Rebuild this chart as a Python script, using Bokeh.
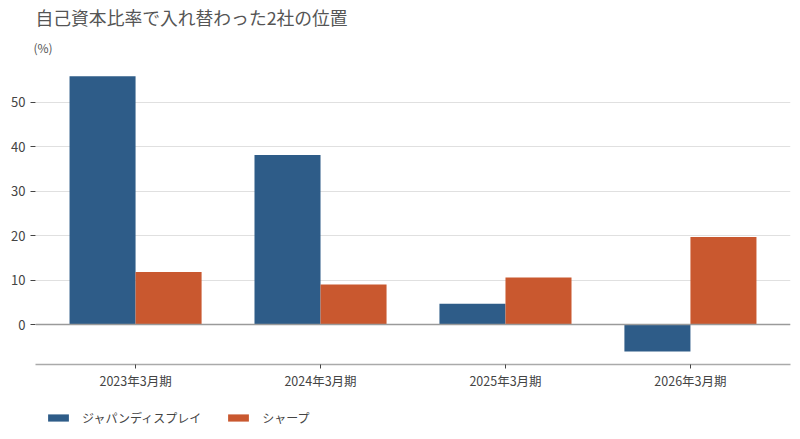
from bokeh.plotting import figure
from bokeh.layouts import column
from bokeh.models import FactorRange, Range1d, Span, Legend, LegendItem, Title, FixedTicker, ColumnDataSource
from bokeh.transform import dodge
from bokeh.embed import file_html
from bokeh.resources import INLINE

categories = ["2023年3月期", "2024年3月期", "2025年3月期", "2026年3月期"]
jdi = [55.9, 38.2, 4.7, -6.1]
sharp = [11.8, 9.0, 10.6, 19.7]
series_names = ["ジャパンディスプレイ", "シャープ"]
y_ticks = [0, 10, 20, 30, 40, 50]

FONT = "Noto Sans CJK JP"
BLUE = "#2e5c88"
ORANGE = "#c9582f"

src = ColumnDataSource(dict(cat=categories, jdi=jdi, sharp=sharp))

xr = FactorRange(*categories, range_padding=0.041, range_padding_units="absolute")
p = figure(x_range=xr, y_range=Range1d(-9, 59),
           width=792, height=392, output_backend="svg", toolbar_location=None,
           min_border_left=35, min_border_right=2, min_border_top=10, min_border_bottom=27)
p.outline_line_color = None
p.background_fill_color = "white"
p.border_fill_color = "white"

r1 = p.vbar(x=dodge("cat", -0.1785, range=p.x_range), top="jdi", width=0.357, source=src,
            fill_color=BLUE, line_color=None)
r2 = p.vbar(x=dodge("cat", 0.1785, range=p.x_range), top="sharp", width=0.357, source=src,
            fill_color=ORANGE, line_color=None)

p.add_layout(Span(location=0, dimension="width", line_color="#9a9a9a", line_width=1.5))

p.xgrid.grid_line_color = None
p.ygrid.grid_line_color = "#e0e0e0"
p.ygrid.grid_line_width = 1

p.yaxis.ticker = FixedTicker(ticks=y_ticks)
p.yaxis.axis_line_color = None
p.yaxis.major_tick_line_color = "#444444"
p.yaxis.major_tick_out = 5
p.yaxis.major_tick_in = 0
p.yaxis.minor_tick_line_color = None
p.yaxis.major_label_text_font = FONT
p.yaxis.major_label_text_font_size = "13px"
p.yaxis.major_label_text_color = "#444444"
p.yaxis.major_label_standoff = 5

p.xaxis.axis_line_color = "#aaaaaa"
p.xaxis.axis_line_width = 1.5
p.xaxis.major_tick_line_color = "#444444"
p.xaxis.major_tick_out = 4
p.xaxis.major_tick_in = 0
p.xaxis.minor_tick_line_color = None
p.xaxis.major_label_text_font = FONT
p.xaxis.major_label_text_font_size = "12.5px"
p.xaxis.major_label_text_color = "#444444"
p.xaxis.major_label_standoff = 2

p.add_layout(Title(text="(%)", text_font=FONT, text_font_size="12px", text_color="#555555",
                   text_font_style="normal", align="left", offset=-2, standoff=13), "above")
p.add_layout(Title(text="自己資本比率で入れ替わった2社の位置", text_font=FONT, text_font_size="17.8px",
                   text_color="#555555", text_font_style="normal", align="left", offset=0, standoff=2), "above")

# legend strip below the chart (proxy bars lie outside its visible range)
lf = figure(width=792, height=34, x_range=Range1d(0, 1), y_range=Range1d(0, 1),
            output_backend="svg", toolbar_location=None,
            min_border_left=35, min_border_right=2, min_border_top=0, min_border_bottom=0)
lf.axis.visible = False
lf.grid.visible = False
lf.outline_line_color = None
lf.border_fill_color = "white"
proxy = ColumnDataSource(dict(x=[-5], top=[-5], bottom=[-4]))
l1 = lf.vbar(x="x", top="top", bottom="bottom", width=0.1, source=proxy, fill_color=BLUE, line_color=None)
l2 = lf.vbar(x="x", top="top", bottom="bottom", width=0.1, source=proxy, fill_color=ORANGE, line_color=None)

legend = Legend(items=[LegendItem(label=series_names[0], renderers=[l1]),
                       LegendItem(label=series_names[1], renderers=[l2])],
                orientation="horizontal", location=(10, 0),
                label_text_font=FONT, label_text_font_size="12px", label_text_color="#444444",
                glyph_width=26, glyph_height=9, label_height=12, label_standoff=11, spacing=24,
                border_line_color=None, background_fill_alpha=0, padding=0, margin=0)
lf.add_layout(legend)

layout = column(p, lf, spacing=0)
open("out.html", "w").write(file_html(layout, INLINE))
